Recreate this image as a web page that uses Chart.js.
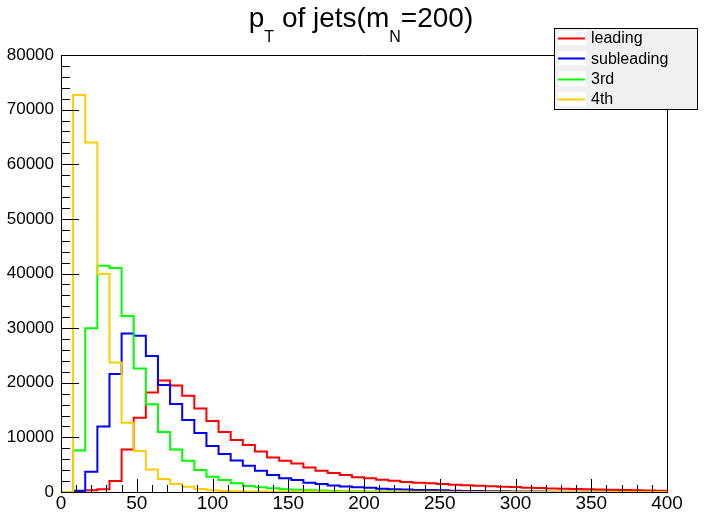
<!DOCTYPE html>
<html>
<head>
<meta charset="utf-8">
<title>pT of jets</title>
<script src="https://cdn.jsdelivr.net/npm/chart.js@4/dist/chart.umd.min.js"></script>
<style>
  body { margin: 0; background: #fff; }
  canvas { display: block; }
</style>
</head>
<body>
<canvas id="grafico" width="706" height="514"></canvas>
<script>
// Histogramas: 50 bins de 8 GeV, de 0 a 400
const larguraBin = 8;
const nomesSeries = ['leading', 'subleading', '3rd', '4th'];
const coresSeries = ['#ff0000', '#0000ff', '#00ff00', '#ffcc00'];

const leading = [0, 100, 300, 500, 2000, 7800, 13600, 18200, 20400, 19500,
    17600, 15300, 13000, 11000, 9500, 8600, 7400, 6300, 5700, 5200,
    4500, 3900, 3500, 3100, 2700, 2500, 2250, 2050, 1850, 1700,
    1600, 1450, 1350, 1250, 1150, 1050, 950, 900, 800, 750,
    650, 600, 550, 500, 450, 420, 380, 320, 280, 250];
const subleading = [0, 250, 3700, 12000, 21600, 29000, 28600, 24900, 19600, 16100,
    13200, 10800, 8400, 6950, 5750, 4800, 3900, 3100, 2500, 2200,
    1700, 1450, 1200, 1000, 860, 780, 600, 500, 450, 380,
    350, 300, 250, 200, 170, 150, 120, 100, 90, 80,
    60, 50, 40, 40, 30, 30, 20, 20, 15, 10];
const terceiro = [0, 7600, 30000, 41400, 41000, 32200, 22600, 16050, 11000, 7800,
    5700, 4030, 2800, 2200, 1600, 1100, 860, 670, 500, 400,
    330, 260, 200, 160, 130, 100, 80, 60, 50, 40,
    30, 25, 20, 15, 10, 10, 8, 6, 5, 4,
    3, 3, 2, 2, 1, 1, 1, 0, 0, 0];
const quarto = [0, 72700, 64000, 39900, 23700, 12700, 7500, 4100, 2400, 1450,
    950, 550, 300, 200, 150, 100, 80, 60, 50, 40,
    30, 25, 20, 15, 10, 8, 6, 5, 4, 3,
    2, 2, 1, 1, 1, 0, 0, 0, 0, 0,
    0, 0, 0, 0, 0, 0, 0, 0, 0, 0];

const ticksX = [0, 50, 100, 150, 200, 250, 300, 350, 400];
const ticksY = [0, 10000, 20000, 30000, 40000, 50000, 60000, 70000, 80000];
const tituloPartes = [['p', false], ['T', true], [' of jets(m', false], ['N', true], ['=200)', false]];

const fonte = '"Liberation Sans", Arial, Helvetica, sans-serif';

// converte os bins em pontos (borda esquerda de cada bin + ponto final)
function pontosHistograma(valores) {
    const pts = valores.map((v, i) => ({ x: i * larguraBin, y: v }));
    pts.push({ x: valores.length * larguraBin, y: valores[valores.length - 1] });
    return pts;
}

const todasSeries = [leading, subleading, terceiro, quarto];

const dados = {
    datasets: todasSeries.map((serie, i) => ({
        label: nomesSeries[i],
        data: pontosHistograma(serie),
        borderColor: coresSeries[i],
        backgroundColor: coresSeries[i],
        borderWidth: 2,
        pointRadius: 0,
        stepped: true,
        fill: false,
        order: 3 - i
    }))
};

// marcas dos eixos para dentro, no estilo ROOT
const marcasPlugin = {
    id: 'marcas',
    afterDatasetsDraw(chart) {
        const { ctx, chartArea: a, scales: { x, y } } = chart;
        ctx.save();
        ctx.strokeStyle = '#000';
        ctx.lineWidth = 1;
        ctx.beginPath();
        for (let v = 0; v <= 400; v += 10) {
            const px = Math.round(x.getPixelForValue(v)) + 0.5;
            const len = v % 50 === 0 ? 13 : 7;
            ctx.moveTo(px, a.bottom);
            ctx.lineTo(px, a.bottom - len);
        }
        for (let v = 0; v <= 80000; v += 2000) {
            const py = Math.round(y.getPixelForValue(v)) + 0.5;
            const len = v % 10000 === 0 ? 18 : 9;
            ctx.moveTo(a.left, py);
            ctx.lineTo(a.left + len, py);
        }
        ctx.rect(Math.round(a.left) + 0.5, Math.round(a.top) + 0.5,
            Math.round(a.right - a.left), Math.round(a.bottom - a.top));
        ctx.stroke();
        ctx.restore();
    }
};

// titulo com subscritos
const tituloPlugin = {
    id: 'titulo',
    afterDraw(chart) {
        const ctx = chart.ctx;
        const fonteNormal = '28px ' + fonte;
        const fonteSub = '16px ' + fonte;
        ctx.save();
        let total = 0;
        tituloPartes.forEach(([t, sub]) => {
            ctx.font = sub ? fonteSub : fonteNormal;
            total += ctx.measureText(t).width;
        });
        let x = 361 - total / 2;
        const base = 27;
        ctx.fillStyle = '#000';
        ctx.textBaseline = 'alphabetic';
        tituloPartes.forEach(([t, sub]) => {
            ctx.font = sub ? fonteSub : fonteNormal;
            ctx.fillText(t, x, sub ? base + 15 : base);
            x += ctx.measureText(t).width;
        });
        ctx.restore();
    }
};

// legenda em caixa cinza, sobreposta ao canto do grafico
const legendaPlugin = {
    id: 'legenda',
    afterDraw(chart) {
        const ctx = chart.ctx;
        const bx = 554, by = 28, bw = 143, bh = 81;
        ctx.save();
        ctx.fillStyle = '#f0f0f0';
        ctx.fillRect(bx, by, bw, bh);
        ctx.strokeStyle = '#000';
        ctx.lineWidth = 1;
        ctx.strokeRect(bx + 0.5, by + 0.5, bw, bh);
        ctx.font = '16px ' + fonte;
        ctx.textBaseline = 'middle';
        chart.data.datasets.forEach((ds, i) => {
            const cy = by + 10 + i * 20.3;
            ctx.fillStyle = '#fff';
            ctx.fillRect(bx + 4, cy - 7, 28, 14);
            ctx.strokeStyle = ds.borderColor;
            ctx.lineWidth = 2;
            ctx.beginPath();
            ctx.moveTo(bx + 4, Math.round(cy) + 0.5);
            ctx.lineTo(bx + 31, Math.round(cy) + 0.5);
            ctx.stroke();
            ctx.fillStyle = '#000';
            ctx.fillText(ds.label, bx + 37, cy + 1);
        });
        ctx.restore();
    }
};

const config = {
    type: 'line',
    data: dados,
    options: {
        responsive: false,
        animation: false,
        layout: { padding: { top: 55, right: 39, left: 0, bottom: 0 } },
        scales: {
            x: {
                type: 'linear',
                min: 0,
                max: 400,
                afterBuildTicks: (s) => { s.ticks = ticksX.map(v => ({ value: v })); },
                afterFit: (s) => { s.height = 22; },
                ticks: {
                    color: '#000',
                    font: { family: fonte, size: 19 },
                    padding: 0,
                    maxRotation: 0,
                    callback: (v) => String(v)
                },
                grid: { drawOnChartArea: false, drawTicks: false },
                border: { color: '#000' }
            },
            y: {
                min: 0,
                max: 80000,
                afterBuildTicks: (s) => { s.ticks = ticksY.map(v => ({ value: v })); },
                afterFit: (s) => { s.width = 61; },
                ticks: {
                    color: '#000',
                    font: { family: fonte, size: 17 },
                    padding: 7,
                    callback: (v) => String(v)
                },
                grid: { drawOnChartArea: false, drawTicks: false },
                border: { color: '#000' }
            }
        },
        plugins: {
            legend: { display: false },
            tooltip: { enabled: false }
        }
    },
    plugins: [marcasPlugin, tituloPlugin, legendaPlugin]
};

const chart = new Chart(document.getElementById('grafico').getContext('2d'), config);
</script>
</body>
</html>
